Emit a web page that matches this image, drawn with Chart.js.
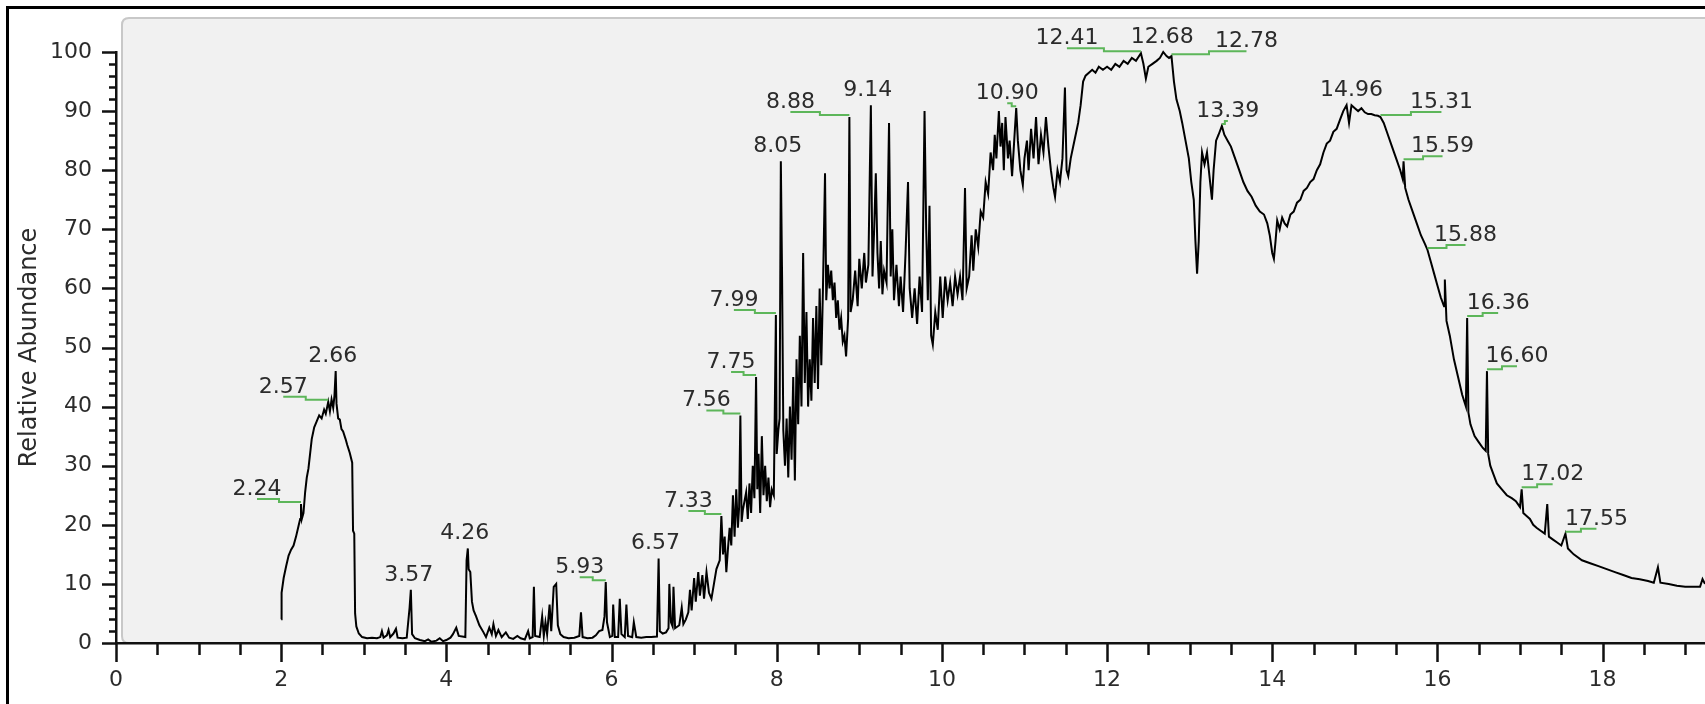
<!DOCTYPE html>
<html>
<head>
<meta charset="utf-8">
<script src="https://cdn.jsdelivr.net/npm/chart.js@4.4.1/dist/chart.umd.min.js"></script>
<style>
  html, body { margin: 0; padding: 0; background: #fff; overflow: hidden; }
  canvas { display: block; }
</style>
</head>
<body>
<canvas id="tic" width="1705" height="704"></canvas>
<script>
// Total ion chromatogram: retention time (min) vs relative abundance (%)
const retentionTime = [
  2.00, 2.005, 2.03, 2.06, 2.09, 2.12, 2.15, 2.18, 2.21, 2.23, 2.24, 2.25, 2.27, 2.29, 2.31, 2.33, 2.35, 2.37, 2.40, 2.43,
  2.46, 2.49, 2.52, 2.54, 2.57, 2.59, 2.61, 2.63, 2.645, 2.66, 2.67, 2.69, 2.71, 2.73, 2.75, 2.78, 2.80, 2.83, 2.86, 2.87,
  2.885, 2.895, 2.91, 2.94, 2.98, 3.04, 3.10, 3.16, 3.20, 3.22, 3.24, 3.28, 3.30, 3.32, 3.36, 3.39, 3.41, 3.47, 3.52, 3.555,
  3.57, 3.585, 3.62, 3.68, 3.74, 3.78, 3.82, 3.88, 3.92, 3.96, 4.00, 4.05, 4.08, 4.12, 4.15, 4.23, 4.245, 4.26, 4.27, 4.29,
  4.31, 4.33, 4.36, 4.40, 4.45, 4.48, 4.52, 4.55, 4.57, 4.60, 4.63, 4.67, 4.72, 4.76, 4.81, 4.86, 4.90, 4.95, 4.99, 5.01,
  5.045, 5.06, 5.075, 5.13, 5.16, 5.18, 5.20, 5.22, 5.25, 5.27, 5.30, 5.33, 5.35, 5.38, 5.42, 5.48, 5.55, 5.61, 5.63, 5.65,
  5.71, 5.77, 5.81, 5.85, 5.89, 5.915, 5.93, 5.945, 5.98, 6.01, 6.02, 6.04, 6.08, 6.10, 6.12, 6.16, 6.18, 6.20, 6.25, 6.27,
  6.30, 6.36, 6.42, 6.48, 6.55, 6.57, 6.585, 6.62, 6.66, 6.69, 6.70, 6.72, 6.74, 6.75, 6.77, 6.82, 6.85, 6.87, 6.90, 6.93,
  6.95, 6.97, 7.00, 7.02, 7.05, 7.07, 7.10, 7.12, 7.15, 7.18, 7.21, 7.24, 7.27, 7.31, 7.33, 7.35, 7.37, 7.39, 7.41, 7.43,
  7.45, 7.47, 7.49, 7.51, 7.53, 7.545, 7.56, 7.575, 7.59, 7.61, 7.63, 7.65, 7.67, 7.69, 7.71, 7.73, 7.75, 7.765, 7.78, 7.80,
  7.82, 7.84, 7.86, 7.88, 7.90, 7.92, 7.94, 7.965, 7.99, 8.00, 8.02, 8.035, 8.05, 8.065, 8.08, 8.10, 8.12, 8.14, 8.16, 8.18,
  8.20, 8.22, 8.24, 8.26, 8.28, 8.30, 8.32, 8.34, 8.36, 8.38, 8.40, 8.42, 8.44, 8.46, 8.48, 8.50, 8.52, 8.54, 8.56, 8.585,
  8.60, 8.62, 8.64, 8.66, 8.68, 8.70, 8.72, 8.74, 8.76, 8.78, 8.80, 8.82, 8.84, 8.865, 8.88, 8.895, 8.92, 8.95, 8.98, 9.00,
  9.03, 9.06, 9.08, 9.11, 9.14, 9.16, 9.18, 9.20, 9.22, 9.24, 9.26, 9.28, 9.30, 9.33, 9.36, 9.38, 9.40, 9.42, 9.45, 9.48,
  9.50, 9.53, 9.56, 9.59, 9.61, 9.64, 9.67, 9.70, 9.73, 9.76, 9.79, 9.81, 9.83, 9.85, 9.87, 9.89, 9.92, 9.95, 9.98, 10.01,
  10.04, 10.07, 10.10, 10.13, 10.16, 10.19, 10.22, 10.25, 10.28, 10.30, 10.33, 10.36, 10.38, 10.41, 10.44, 10.47, 10.50, 10.53, 10.56, 10.59,
  10.62, 10.64, 10.66, 10.69, 10.71, 10.73, 10.75, 10.77, 10.80, 10.82, 10.85, 10.88, 10.90, 10.92, 10.95, 10.98, 11.00, 11.03, 11.05, 11.08,
  11.11, 11.14, 11.17, 11.20, 11.23, 11.26, 11.29, 11.32, 11.35, 11.37, 11.40, 11.43, 11.46, 11.49, 11.51, 11.53, 11.56, 11.59, 11.62, 11.65,
  11.68, 11.71, 11.74, 11.78, 11.82, 11.86, 11.90, 11.95, 12.00, 12.05, 12.10, 12.15, 12.20, 12.25, 12.30, 12.35, 12.41, 12.44, 12.47, 12.50,
  12.55, 12.60, 12.64, 12.68, 12.72, 12.75, 12.78, 12.81, 12.84, 12.88, 12.91, 12.95, 12.99, 13.02, 13.05, 13.07, 13.09, 13.11, 13.13, 13.15,
  13.18, 13.21, 13.24, 13.27, 13.29, 13.32, 13.35, 13.39, 13.42, 13.46, 13.50, 13.55, 13.60, 13.65, 13.70, 13.75, 13.80, 13.85, 13.90, 13.94,
  13.97, 14.00, 14.02, 14.04, 14.06, 14.09, 14.12, 14.15, 14.18, 14.22, 14.26, 14.30, 14.34, 14.38, 14.42, 14.46, 14.50, 14.54, 14.58, 14.62,
  14.66, 14.70, 14.74, 14.78, 14.82, 14.86, 14.90, 14.93, 14.96, 15.00, 15.04, 15.08, 15.12, 15.16, 15.20, 15.24, 15.28, 15.31, 15.35, 15.40,
  15.45, 15.50, 15.55, 15.58, 15.59, 15.61, 15.65, 15.70, 15.75, 15.80, 15.85, 15.88, 15.92, 15.96, 16.00, 16.04, 16.08, 16.09, 16.11, 16.15,
  16.20, 16.25, 16.30, 16.345, 16.36, 16.375, 16.40, 16.45, 16.50, 16.55, 16.585, 16.60, 16.615, 16.64, 16.68, 16.72, 16.78, 16.84, 16.90, 16.95,
  17.00, 17.02, 17.04, 17.08, 17.12, 17.16, 17.20, 17.25, 17.30, 17.33, 17.35, 17.40, 17.45, 17.50, 17.55, 17.58, 17.65, 17.75, 17.85, 17.95,
  18.05, 18.15, 18.25, 18.35, 18.45, 18.55, 18.62, 18.67, 18.70, 18.80, 18.90, 19.00, 19.10, 19.18, 19.21, 19.24
];

const relAbundance = [
  4.0, 8.5, 11.0, 13.0, 14.8, 15.8, 16.5, 18.0, 19.8, 21.0, 23.5, 21.0, 22.0, 25.5, 28.0, 29.5, 32.0, 34.5, 36.5, 37.5,
  38.5, 38.0, 39.5, 38.8, 40.8, 39.2, 41.2, 39.8, 41.8, 46.0, 40.5, 38.0, 37.8, 36.2, 35.8, 34.5, 33.5, 32.2, 30.5, 19.0,
  18.5, 5.0, 2.8, 1.6, 1.0, 0.8, 0.9, 0.8, 1.0, 2.0, 0.9, 1.3, 2.2, 1.0, 1.6, 2.4, 0.9, 0.8, 0.9, 6.0,
  9.0, 1.5, 0.8, 0.5, 0.3, 0.6, 0.2, 0.4, 0.8, 0.3, 0.5, 0.9, 1.5, 2.6, 1.2, 1.0, 14.0, 16.0, 12.5, 12.0,
  7.0, 5.5, 4.5, 3.0, 1.8, 1.0, 2.6, 1.5, 3.2, 1.2, 2.2, 1.0, 1.8, 0.9, 0.7, 1.2, 0.8, 0.6, 2.0, 0.8,
  1.0, 9.5, 1.2, 1.0, 4.5, 1.2, 3.5, 1.5, 6.5, 2.0, 9.5, 10.0, 3.0, 1.5, 1.0, 0.8, 0.9, 1.2, 5.2, 1.0,
  0.8, 0.9, 1.3, 2.0, 2.2, 4.5, 10.3, 3.5, 1.0, 1.2, 6.5, 1.0, 1.0, 7.5, 1.5, 1.0, 6.5, 1.2, 1.0, 3.5,
  1.0, 0.9, 1.0, 1.0, 1.1, 14.3, 2.0, 1.6, 1.8, 2.5, 10.0, 3.5, 2.8, 9.5, 2.5, 3.0, 6.0, 3.2, 4.0, 5.2,
  9.0, 5.5, 11.0, 7.0, 12.0, 8.0, 11.5, 7.5, 12.0, 8.5, 7.5, 10.0, 12.5, 14.0, 21.5, 15.0, 18.0, 12.0, 16.0, 19.5,
  16.5, 25.0, 18.0, 26.0, 19.5, 23.0, 38.5, 20.5, 22.5, 24.0, 25.5, 21.0, 27.0, 22.0, 30.0, 24.5, 45.0, 26.0, 32.0, 22.0,
  35.0, 25.0, 30.0, 24.0, 28.0, 23.0, 26.0, 25.0, 55.5, 32.0, 36.0, 38.0, 81.5, 62.0, 36.0, 30.0, 38.0, 28.0, 40.0, 31.0,
  45.0, 27.5, 48.0, 37.0, 52.0, 40.0, 66.0, 44.0, 56.0, 40.0, 48.0, 41.0, 55.0, 44.0, 57.0, 43.0, 60.0, 47.0, 60.0, 79.5,
  58.0, 64.0, 60.0, 63.0, 58.0, 61.0, 55.0, 58.0, 53.0, 55.0, 51.0, 52.0, 48.5, 55.0, 89.0, 56.0, 58.0, 63.0, 57.0, 65.0,
  60.0, 66.0, 61.0, 64.0, 91.0, 62.0, 70.0, 79.5, 66.0, 60.0, 68.0, 59.0, 63.0, 61.0, 88.0, 62.0, 70.0, 58.0, 64.0, 57.0,
  62.0, 56.0, 66.0, 78.0, 60.0, 55.0, 60.0, 54.0, 62.0, 56.0, 90.0, 70.0, 58.0, 74.0, 52.0, 50.5, 56.0, 53.0, 62.0, 55.0,
  62.0, 58.0, 61.0, 57.0, 62.0, 59.0, 62.0, 58.0, 77.0, 60.0, 62.0, 69.0, 63.0, 70.0, 67.0, 73.0, 72.0, 78.0, 76.0, 83.0,
  80.0, 86.0, 82.0, 90.0, 84.0, 88.0, 80.0, 89.0, 82.0, 85.0, 79.0, 86.0, 90.5, 85.0, 80.0, 77.5, 82.0, 85.0, 80.0, 87.0,
  82.0, 89.0, 81.0, 86.0, 83.0, 89.0, 84.0, 80.0, 77.0, 75.5, 80.0, 78.0, 82.0, 94.0, 80.0, 79.0, 82.0, 84.0, 86.0, 88.0,
  91.0, 95.0, 96.0, 96.5, 97.0, 96.5, 97.5, 97.0, 97.5, 97.0, 98.0, 97.5, 98.5, 98.0, 99.0, 98.5, 99.8, 98.0, 95.5, 97.5,
  98.0, 98.5, 99.0, 100.0, 99.3, 99.0, 99.3, 95.0, 92.0, 90.0, 88.0, 85.0, 82.0, 78.0, 75.0, 68.0, 62.5, 68.0, 78.0, 83.0,
  81.0, 83.0, 79.0, 75.0, 80.0, 85.0, 86.0, 87.5, 86.0, 85.0, 84.0, 82.0, 80.0, 78.0, 76.5, 75.5, 74.0, 73.0, 72.5, 71.0,
  69.0, 66.0, 65.0, 68.0, 71.5, 70.0, 72.0, 71.0, 70.5, 72.5, 73.0, 74.5, 75.0, 76.5, 77.0, 78.0, 78.5, 80.0, 81.0, 83.0,
  84.5, 85.0, 86.5, 87.0, 88.5, 90.0, 91.0, 88.0, 91.0, 90.5, 90.0, 90.5, 89.8, 89.5, 89.5, 89.3, 89.2, 89.0, 88.0, 86.0,
  84.0, 82.0, 80.0, 78.5, 81.5, 77.0, 75.0, 73.0, 71.0, 69.0, 67.5, 66.5, 64.5, 62.5, 60.5, 58.5, 57.0, 61.5, 54.5, 52.0,
  48.0, 45.0, 42.0, 40.0, 55.0, 39.0, 37.0, 35.0, 34.0, 33.0, 32.5, 46.0, 32.0, 30.0, 28.5, 27.0, 26.0, 25.0, 24.5, 24.0,
  23.0, 26.0, 22.0, 21.5, 21.0, 20.0, 19.5, 19.0, 18.5, 23.5, 18.0, 17.5, 17.0, 16.5, 18.5, 16.0, 15.0, 14.0, 13.5, 13.0,
  12.5, 12.0, 11.5, 11.0, 10.8, 10.5, 10.2, 12.8, 10.2, 10.0, 9.7, 9.5, 9.5, 9.5, 10.8, 10.0
];

// Annotated peaks (retention time) and where each annotation text sits
const peakLabels = [2.24, 2.57, 2.66, 3.57, 4.26, 5.93, 6.57, 7.33, 7.56, 7.75, 7.99, 8.05, 8.88, 9.14,
  10.90, 12.41, 12.68, 12.78, 13.39, 14.96, 15.31, 15.59, 15.88, 16.36, 16.60, 17.02, 17.55];
const labelShift = [-44, -45, -3, -2, -3, -26, -3, -33, -34, -25, -42, -3, -59, -3,
  -9, -74, -1, 75, 6, 0, 61, 39, 38, 31, 30, 31, 31];

const xTickValues = [0, 2, 4, 6, 8, 10, 12, 14, 16, 18];
const yTickValues = [0, 10, 20, 30, 40, 50, 60, 70, 80, 90, 100];
const axisTitle = 'Relative Abundance';

const FONT = "'DejaVu Sans', 'Liberation Sans', sans-serif";
const TEXT = '#2b2b2b';
const LEADER = '#5db65a';

// Page frame and the grey plotting panel behind the trace
const panelPlugin = {
  id: 'panel',
  beforeDraw(chart) {
    const { ctx, width, height, chartArea: a } = chart;
    ctx.save();
    ctx.fillStyle = '#ffffff';
    ctx.fillRect(0, 0, width, height);
    ctx.strokeStyle = '#000000';
    ctx.lineWidth = 3;
    ctx.beginPath();
    ctx.moveTo(7.5, height + 5);
    ctx.lineTo(7.5, 7.5);
    ctx.lineTo(width + 5, 7.5);
    ctx.stroke();

    const x0 = a.left + 6, y0 = a.top - 34, x1 = width + 20, y1 = a.bottom, r = 7;
    ctx.beginPath();
    ctx.moveTo(x0 + r, y0);
    ctx.lineTo(x1, y0);
    ctx.lineTo(x1, y1);
    ctx.lineTo(x0 + r, y1);
    ctx.quadraticCurveTo(x0, y1, x0, y1 - r);
    ctx.lineTo(x0, y0 + r);
    ctx.quadraticCurveTo(x0, y0, x0 + r, y0);
    ctx.closePath();
    ctx.fillStyle = '#f1f1f1';
    ctx.fill();
    ctx.strokeStyle = '#c8c8c8';
    ctx.lineWidth = 2;
    ctx.stroke();
    ctx.restore();
  }
};

// Major and minor tick marks on both axes
const tickMarkPlugin = {
  id: 'tickMarks',
  afterDraw(chart) {
    const { ctx, chartArea: a, scales: { x, y } } = chart;
    ctx.save();
    ctx.strokeStyle = '#111111';
    ctx.lineWidth = 2.5;
    ctx.beginPath();
    for (let k = 0; k * 0.5 <= x.max; k++) {
      const v = k * 0.5;
      const p = Math.round(x.getPixelForValue(v)) + 0.5;
      const len = xTickValues.includes(v) ? 19 : 12;
      ctx.moveTo(p, a.bottom);
      ctx.lineTo(p, a.bottom + len);
    }
    for (let v = 0; v <= 100; v += 2) {
      const p = Math.round(y.getPixelForValue(v)) + 0.5;
      const len = v % 10 === 0 ? 14 : 7;
      ctx.moveTo(a.left, p);
      ctx.lineTo(a.left - len, p);
    }
    ctx.stroke();
    ctx.restore();
  }
};

// Retention-time annotations with green leader lines to their apex
const peakLabelPlugin = {
  id: 'peakLabels',
  afterDatasetsDraw(chart) {
    const { ctx, scales: { x, y } } = chart;
    ctx.save();
    ctx.font = '22px ' + FONT;
    ctx.textAlign = 'center';
    ctx.textBaseline = 'alphabetic';
    peakLabels.forEach((rt, i) => {
      const idx = retentionTime.indexOf(rt);
      const value = relAbundance[idx];
      const px = x.getPixelForValue(rt);
      const py = y.getPixelForValue(value);
      const shift = labelShift[i];
      const tx = px + shift;
      if (Math.abs(shift) >= 5) {
        const mid = px + shift / 2;
        ctx.strokeStyle = LEADER;
        ctx.lineWidth = 2;
        ctx.beginPath();
        ctx.moveTo(px, py - 2);
        ctx.lineTo(mid, py - 2);
        ctx.lineTo(mid, py - 5);
        ctx.lineTo(tx, py - 5);
        ctx.stroke();
      }
      ctx.fillStyle = TEXT;
      ctx.fillText(rt.toFixed(2), tx, py - 9);
    });
    ctx.restore();
  }
};

new Chart(document.getElementById('tic'), {
  type: 'scatter',
  data: {
    datasets: [{
      data: retentionTime.map((t, i) => ({ x: t, y: relAbundance[i] })),
      showLine: true,
      borderColor: '#000000',
      borderWidth: 2,
      pointRadius: 0,
      tension: 0,
      clip: false
    }]
  },
  options: {
    responsive: false,
    animation: false,
    devicePixelRatio: 1,
    events: [],
    layout: { padding: { top: 52, right: 0, bottom: 0, left: 0 } },
    plugins: { legend: { display: false }, tooltip: { enabled: false } },
    scales: {
      x: {
        type: 'linear',
        min: 0,
        max: 19.24,
        afterFit(scale) { scale.height = 61; },
        afterBuildTicks(scale) { scale.ticks = xTickValues.map(v => ({ value: v })); },
        grid: { display: false, drawTicks: false },
        border: { display: true, color: '#111111', width: 2.5 },
        ticks: {
          padding: 24,
          maxRotation: 0,
          autoSkip: false,
          color: TEXT,
          font: { family: FONT, size: 22 },
          callback: v => String(v)
        }
      },
      y: {
        type: 'linear',
        min: 0,
        max: 100,
        afterFit(scale) { scale.width = 116; },
        afterBuildTicks(scale) { scale.ticks = yTickValues.map(v => ({ value: v })); },
        grid: { display: false, drawTicks: false },
        border: { display: true, color: '#111111', width: 2.5 },
        ticks: {
          padding: 24,
          color: TEXT,
          font: { family: FONT, size: 22 },
          callback: v => String(v)
        },
        title: {
          display: true,
          text: axisTitle,
          color: TEXT,
          font: { family: FONT, size: 24 },
          padding: { top: 15, bottom: 0 }
        }
      }
    }
  },
  plugins: [panelPlugin, tickMarkPlugin, peakLabelPlugin]
});
</script>
</body>
</html>
